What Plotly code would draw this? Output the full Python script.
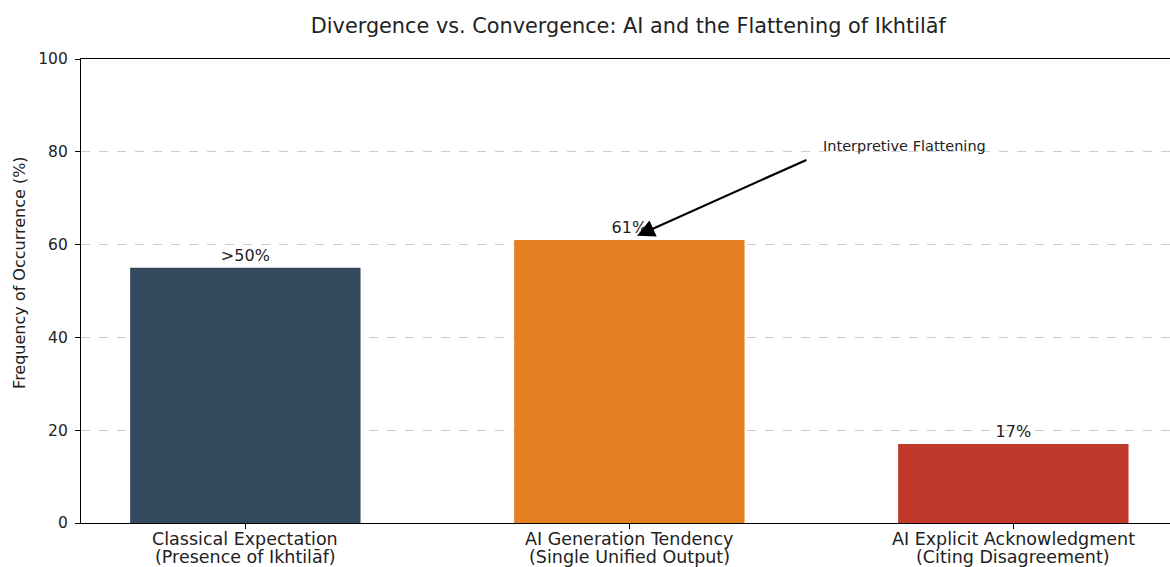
import plotly.graph_objects as go

categories = ["Classical Expectation<br>(Presence of Ikhtilāf)",
              "AI Generation Tendency<br>(Single Unified Output)",
              "AI Explicit Acknowledgment<br>(Citing Disagreement)"]
values = [55, 61, 17]
labels = [">50%", "61%", "17%"]
colors = ["#34495e", "#e67e22", "#c0392b"]
y_ticks = [0, 20, 40, 60, 80, 100]

x_idx = list(range(len(categories)))
SANS = "DejaVu Sans"

fig = go.Figure()
fig.add_trace(go.Bar(
    x=x_idx, y=values, width=0.6, marker_color=colors, marker_line_width=0,
    text=labels, textposition="outside", cliponaxis=False,
    textfont=dict(family=SANS, size=16, color="#222222"),
))

# category labels, two lines each, placed under the ticks
for i, cat in enumerate(categories):
    for j, line in enumerate(cat.split("<br>")):
        fig.add_annotation(
            x=i, y=0, xref="x", yref="paper", text=line, showarrow=False,
            xanchor="center", yanchor="middle", yshift=-16 - 18 * j,
            font=dict(family=SANS, size=17.5, color="#222222"),
        )

fig.add_annotation(
    x=1.02, y=61.9, ax=1.465, ay=78.4, xref="x", yref="y", axref="x", ayref="y",
    showarrow=True, arrowhead=2, arrowsize=1.6, arrowwidth=2.2, arrowcolor="black", text="",
)
fig.add_annotation(
    x=1.5, y=81.2, xref="x", yref="y", text="Interpretive Flattening", showarrow=False,
    xanchor="left", yanchor="middle", font=dict(family=SANS, size=14.5, color="#222222"),
)
fig.add_annotation(
    x=0, y=0.539, xref="paper", yref="paper", xshift=-61, text="Frequency of Occurrence (%)",
    showarrow=False, textangle=-90, xanchor="center", yanchor="middle",
    font=dict(family=SANS, size=16, color="#222222"),
)

fig.update_layout(
    width=1170, height=567, plot_bgcolor="white", paper_bgcolor="white",
    margin=dict(l=81, r=0, t=59, b=44),
    showlegend=False,
    title=dict(text="Divergence vs. Convergence: AI and the Flattening of Ikhtilāf",
               x=0.537, xanchor="center", y=0.955, yanchor="middle",
               font=dict(family=SANS, size=20.8, color="#222222")),
)
fig.update_xaxes(
    range=[-0.428, 2.408], tickvals=x_idx, showticklabels=False, automargin=False,
    showline=True, linecolor="black", linewidth=1.3, mirror=True,
    ticks="outside", ticklen=5, tickcolor="black", showgrid=False,
)
fig.update_yaxes(
    range=[0, 100], tickvals=y_ticks, automargin=False,
    showline=True, linecolor="black", linewidth=1.3,
    ticks="outside", ticklen=5, tickcolor="black", ticklabelstandoff=4,
    showgrid=True, gridcolor="#cccccc", griddash="dash", gridwidth=1, zeroline=False,
    tickfont=dict(family=SANS, size=15.5, color="#222222"),
)

fig.write_html("out.html")
